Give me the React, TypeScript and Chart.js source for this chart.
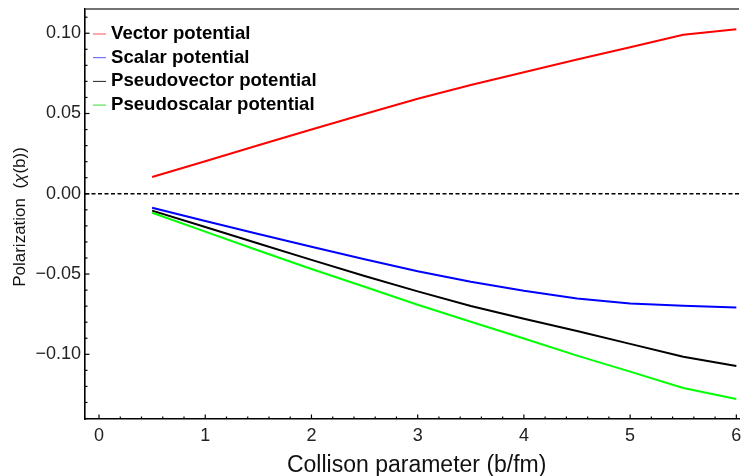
import React, { useEffect, useRef } from "react";
import { Chart, registerables } from "chart.js";

Chart.register(...registerables);

const bValues = [0.5, 1, 1.5, 2, 2.5, 3, 3.5, 4, 4.5, 5, 5.5, 6];
const vectorPot = [0.0104, 0.0203, 0.0302, 0.04, 0.0497, 0.0592, 0.0678, 0.0757, 0.0836, 0.0913, 0.099, 0.1025];
const scalarPot = [-0.0087, -0.017, -0.025, -0.033, -0.0408, -0.0482, -0.0548, -0.0604, -0.0652, -0.0684, -0.0697, -0.0709];
const pseudovectorPot = [-0.0105, -0.0207, -0.031, -0.0412, -0.0512, -0.0608, -0.0699, -0.0778, -0.0855, -0.0935, -0.1015, -0.1073];
const pseudoscalarPot = [-0.0118, -0.0236, -0.0353, -0.0469, -0.0579, -0.0691, -0.0797, -0.0902, -0.1008, -0.1108, -0.121, -0.1279];

const seriesLabels = ["Vector potential", "Scalar potential", "Pseudovector potential", "Pseudoscalar potential"];
const seriesColors = ["#ff0000", "#0000ff", "#000000", "#00ff00"];
const legendColors = ["#ff5555", "#5555ff", "#222222", "#33dd33"];

const xTitle = "Collison parameter (b/fm)";
const yTitleParts = ["Polarization  (", "χ", "(b))"];

const FONT = "'Liberation Sans', Arial, Helvetica, sans-serif";

const fmtY = (v: number) => {
  if (Math.abs(v) < 1e-9) return "0.00";
  const s = Math.abs(v).toFixed(2);
  return v < 0 ? "\u2212" + s : s;
};

const decorPlugin = {
  id: "decor",
  beforeDatasetsDraw(chart: any) {
    const { ctx, chartArea: a, scales } = chart;
    const y0 = scales.y.getPixelForValue(0);
    ctx.save();
    ctx.strokeStyle = "#000";
    ctx.lineWidth = 1.5;
    ctx.setLineDash([4, 2.5]);
    ctx.beginPath();
    ctx.moveTo(a.left, y0);
    ctx.lineTo(a.right, y0);
    ctx.stroke();
    ctx.restore();
  },
  afterDraw(chart: any) {
    const { ctx, chartArea: a, scales } = chart;
    const xs = scales.x;
    const ys = scales.y;
    ctx.save();
    // top frame line
    ctx.strokeStyle = "#444";
    ctx.lineWidth = 1.5;
    ctx.beginPath();
    ctx.moveTo(a.left, a.top);
    ctx.lineTo(a.right, a.top);
    ctx.stroke();

    // ticks
    ctx.strokeStyle = "#000";
    ctx.lineWidth = 1.2;
    const kx0 = Math.ceil(xs.min / 0.2 - 1e-6);
    const kx1 = Math.floor(xs.max / 0.2 + 1e-6);
    for (let k = kx0; k <= kx1; k++) {
      const v = k * 0.2;
      const major = k % 5 === 0;
      const px = xs.getPixelForValue(v);
      ctx.beginPath();
      ctx.moveTo(px, a.bottom);
      ctx.lineTo(px, a.bottom - (major ? 4.5 : 2.5));
      ctx.stroke();
    }
    const ky0 = Math.ceil(ys.min / 0.01 - 1e-6);
    const ky1 = Math.floor(ys.max / 0.01 + 1e-6);
    for (let k = ky0; k <= ky1; k++) {
      const v = k * 0.01;
      const major = k % 5 === 0;
      const py = ys.getPixelForValue(v);
      ctx.beginPath();
      ctx.moveTo(a.left, py);
      ctx.lineTo(a.left + (major ? 4.5 : 2.5), py);
      ctx.stroke();
    }

    // legend
    ctx.font = `bold 18.6px ${FONT}`;
    ctx.textBaseline = "alphabetic";
    ctx.textAlign = "left";
    chart.data.datasets.forEach((ds: any, i: number) => {
      const base = 39 + i * 23.7;
      ctx.strokeStyle = legendColors[i];
      ctx.lineWidth = 1;
      ctx.beginPath();
      ctx.moveTo(93, base - 5);
      ctx.lineTo(106, base - 5);
      ctx.stroke();
      ctx.fillStyle = "#000";
      ctx.fillText(ds.label, 111, base);
    });

    // x title
    ctx.fillStyle = "#111";
    ctx.font = `23px ${FONT}`;
    ctx.textAlign = "center";
    ctx.fillText(xTitle, 416.7, 471.5);

    // y title
    ctx.translate(24.5, 217);
    ctx.rotate(-Math.PI / 2);
    const fonts = [`17px ${FONT}`, `italic 17px ${FONT}`, `17px ${FONT}`];
    let total = 0;
    const widths = yTitleParts.map((t, i) => {
      ctx.font = fonts[i];
      const w = ctx.measureText(t).width;
      total += w;
      return w;
    });
    let cx = -total / 2;
    ctx.textAlign = "left";
    yTitleParts.forEach((t, i) => {
      ctx.font = fonts[i];
      ctx.fillText(t, cx, 0);
      cx += widths[i];
    });
    ctx.restore();
  },
};

export default function App() {
  const ref = useRef<HTMLCanvasElement | null>(null);
  useEffect(() => {
    if (!ref.current) return;
    const seriesValues = [vectorPot, scalarPot, pseudovectorPot, pseudoscalarPot];
    const chart = new Chart(ref.current, {
      type: "line",
      data: {
        datasets: seriesValues.map((vals, i) => ({
          label: seriesLabels[i],
          data: bValues.map((b, j) => ({ x: b, y: vals[j] })),
          borderColor: seriesColors[i],
          backgroundColor: seriesColors[i],
          borderWidth: 2,
          pointRadius: 0,
          tension: 0,
          fill: false,
        })),
      },
      options: {
        animation: false,
        responsive: true,
        maintainAspectRatio: false,
        layout: { padding: { top: 9, right: 4, left: 0, bottom: 0 } },
        plugins: { legend: { display: false }, tooltip: { enabled: false }, title: { display: false } },
        scales: {
          x: {
            type: "linear",
            min: -0.132,
            max: 6.025,
            grid: { display: false, drawTicks: false },
            border: { display: true, color: "#000", width: 1.6 },
            ticks: {
              stepSize: 1,
              includeBounds: false,
              color: "#222",
              font: { size: 18, family: FONT },
              padding: 6,
              maxRotation: 0,
              callback: (v: any) => String(Math.round(Number(v))),
            },
            afterFit: (s: any) => {
              s.height = 57;
              s.paddingLeft = 0;
              s.paddingRight = 0;
            },
          },
          y: {
            type: "linear",
            min: -0.1403,
            max: 0.1151,
            grid: { display: false, drawTicks: false },
            border: { display: true, color: "#000", width: 1.6 },
            ticks: {
              stepSize: 0.05,
              includeBounds: false,
              color: "#222",
              font: { size: 18, family: FONT },
              padding: 4,
              callback: (v: any) => fmtY(Number(v)),
            },
            afterFit: (s: any) => {
              s.width = 85;
              s.paddingTop = 0;
              s.paddingBottom = 0;
            },
          },
        },
      },
      plugins: [decorPlugin],
    } as any);
    return () => chart.destroy();
  }, []);
  return (
    <div style={{ position: "absolute", left: 0, top: 0, width: 743, height: 476, background: "#fff" }}>
      <canvas ref={ref} />
    </div>
  );
}
